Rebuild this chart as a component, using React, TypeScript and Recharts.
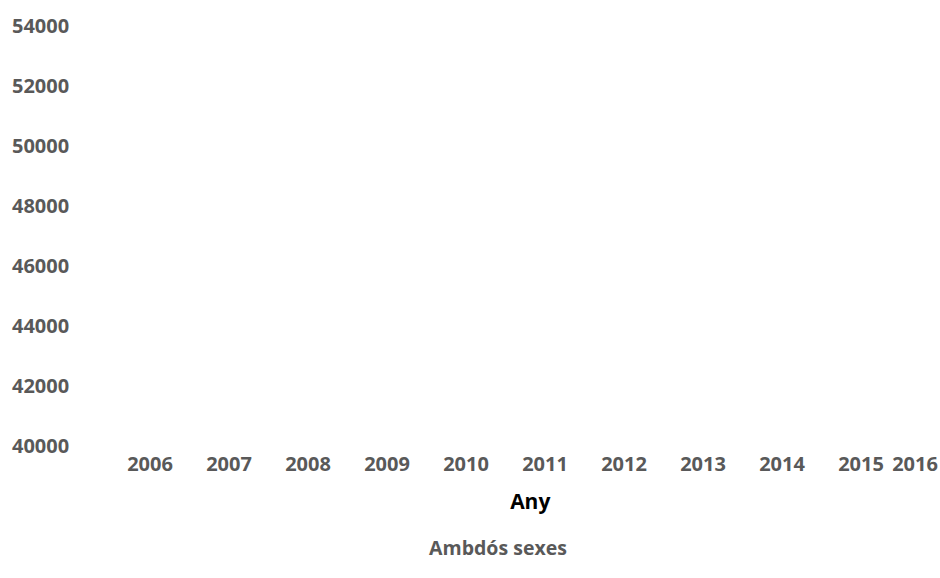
import { LineChart, Line, XAxis, YAxis, Legend } from "recharts";

// anys i valors (la sèrie no té dades visibles al gràfic original)
const years = [2006, 2007, 2008, 2009, 2010, 2011, 2012, 2013, 2014, 2015, 2016];
const ambdosSexes: (number | null)[] = [null, null, null, null, null, null, null, null, null, null, null];
const yTicks = [40000, 42000, 44000, 46000, 48000, 50000, 52000, 54000];

const seriesName = "Ambdós sexes";
const xTitle = "Any";

const chartData = years.map((y, i) => ({ any: y, ambdos: ambdosSexes[i] }));

const W = 940;
const H = 578;
const font = "'Open Sans', sans-serif";
const grey = "#595959";

const YTick = (props: any) => {
    const { y, payload } = props;
    return (
        <text x={12} y={y} textAnchor="start" dominantBaseline="central"
            fontFamily={font} fontWeight={700} fontSize={20} fill={grey}>
            {payload.value}
        </text>
    );
};

const XTick = (props: any) => {
    const { x, y, payload } = props;
    // l'últim any queda enganxat a la vora dreta
    const half = 23;
    const cx = Math.min(x, W - 2 - half);
    return (
        <text x={cx} y={y + 16} textAnchor="middle" dominantBaseline="central"
            fontFamily={font} fontWeight={700} fontSize={20} fill={grey}>
            {payload.value}
        </text>
    );
};

const AxisTitle = (props: any) => {
    const { viewBox } = props;
    const cx = viewBox.x + viewBox.width / 2 + 5;
    return (
        <text x={cx} y={viewBox.y + 56} textAnchor="middle" dominantBaseline="central"
            fontFamily={font} fontWeight={700} fontSize={21} fill="#000">
            {xTitle}
        </text>
    );
};

const LegendText = () => (
    <div style={{ height: 50, textAlign: "center", fontFamily: font, fontWeight: 700, fontSize: 19.5, color: grey, lineHeight: "24px", paddingTop: 8, boxSizing: "border-box", marginLeft: 56 }}>
        {seriesName}
    </div>
);

export default function App() {
    return (
        <div style={{ width: W, height: H, background: "#fff" }}>
            <style>{`body{margin:0}`}</style>
            <LineChart width={W} height={H} data={chartData} margin={{ top: 25, right: 0, bottom: 0, left: 0 }}>
                <XAxis dataKey="any" type="number" domain={[2005.5, 2016]} ticks={years} interval={0}
                    axisLine={false} tickLine={false} tickSize={0} tick={<XTick />} height={83}
                    label={<AxisTitle />} />
                <YAxis domain={[40000, 54000]} ticks={yTicks} width={110.5} axisLine={false} tickLine={false}
                    tick={<YTick />} allowDataOverflow />
                <Legend verticalAlign="bottom" content={<LegendText />} />
                <Line type="linear" dataKey="ambdos" name={seriesName} stroke="#4472c4" strokeWidth={2}
                    dot={false} isAnimationActive={false} />
            </LineChart>
        </div>
    );
}
